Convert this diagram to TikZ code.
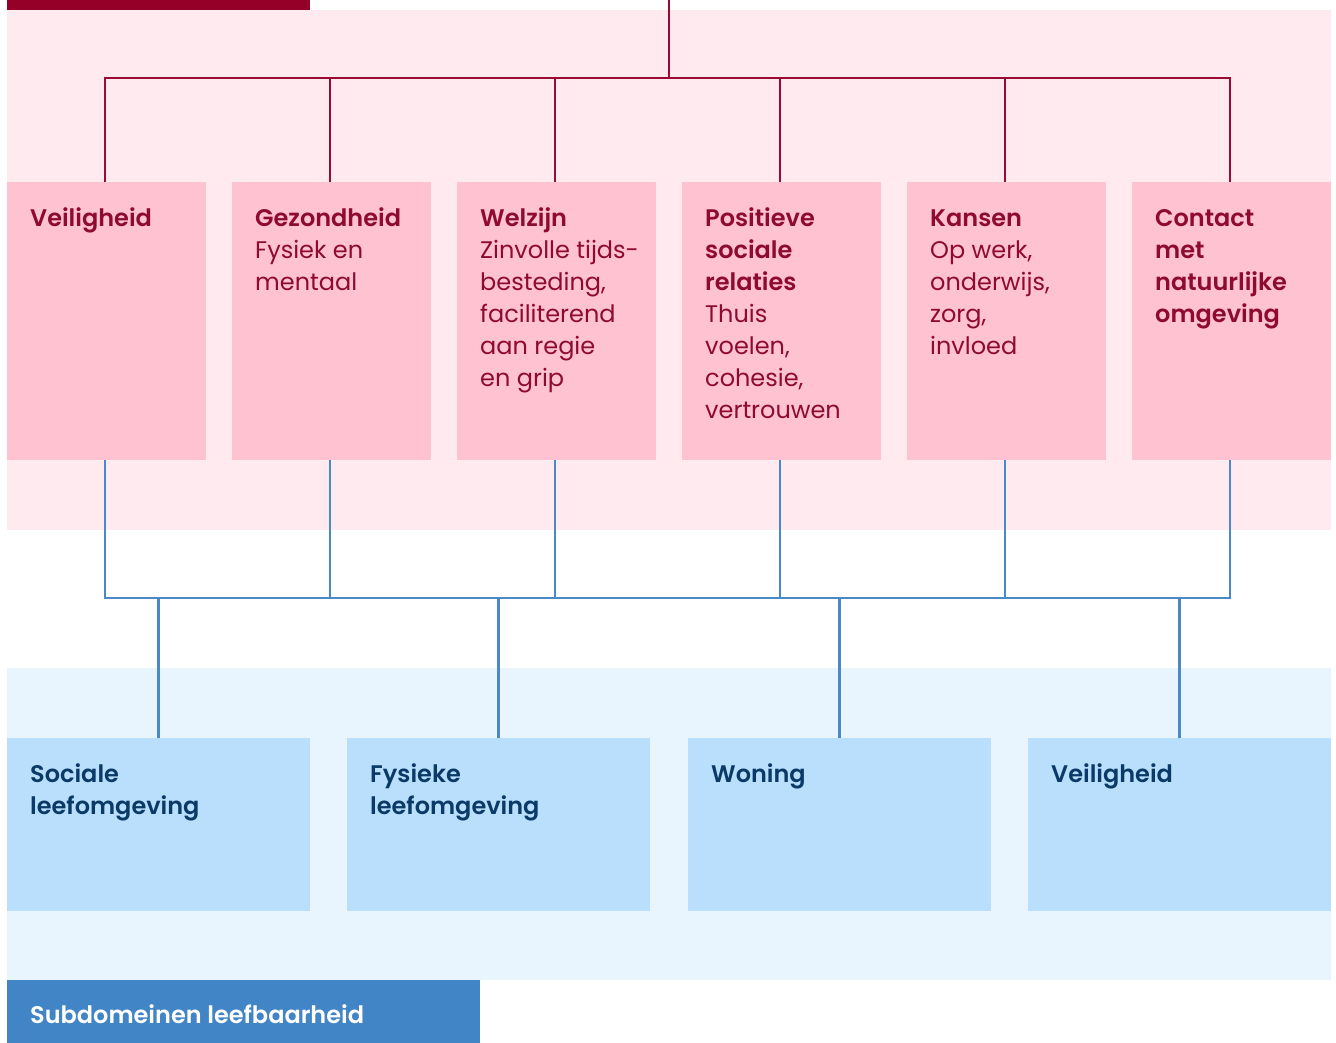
\documentclass[tikz,border=0pt]{standalone}
\usepackage{fontspec}
\setmainfont{Poppins}[BoldFont={Poppins SemiBold}]
\definecolor{darkred}{HTML}{950028}
\definecolor{pinkbg}{HTML}{FFEBEF}
\definecolor{pinkbox}{HTML}{FFC2D0}
\definecolor{redtext}{HTML}{8E0A30}
\definecolor{redline}{HTML}{9B0A35}
\definecolor{bluebg}{HTML}{E8F4FE}
\definecolor{bluebox}{HTML}{B9DFFD}
\definecolor{bluetext}{HTML}{0B3A68}
\definecolor{blueline}{HTML}{4A88C7}
\definecolor{bluebar}{HTML}{4285C6}
\begin{document}
\begin{tikzpicture}[x=1pt,y=-1pt,
  pbox/.style={fill=pinkbox,draw=none,minimum width=199pt,minimum height=278pt,inner sep=0pt,outer sep=0pt,anchor=north west},
  bbox/.style={fill=bluebox,draw=none,minimum width=303pt,minimum height=173pt,inner sep=0pt,outer sep=0pt,anchor=north west},
  ptext/.style={anchor=north west,align=left,inner sep=0pt,text=redtext,font=\fontsize{24}{32}\selectfont},
  btext/.style={anchor=north west,align=left,inner sep=0pt,text=bluetext,font=\fontsize{24}{32}\selectfont\bfseries},
  rline/.style={draw=redline,line width=2.5pt},
  bline/.style={draw=blueline,line width=2.5pt}]
\useasboundingbox (0,0) rectangle (1336,1043);
% backgrounds
\fill[pinkbg] (7,10) rectangle (1331,530);
\fill[bluebg] (7,668) rectangle (1331,980);
\fill[darkred] (7,0) rectangle (310,10);
\node[fill=bluebar,anchor=north west,minimum width=473pt,minimum height=63pt,inner sep=0pt] (bar) at (7,980) {};
\node[anchor=base west,inner sep=0pt,text=white,font=\fontsize{24}{32}\selectfont\bfseries] (bartext) at (30,1023) {Subdomeinen leefbaarheid};
% pink boxes
\node[pbox] (p1) at (7,182) {};
\node[pbox] (p2) at (232,182) {};
\node[pbox] (p3) at (457,182) {};
\node[pbox] (p4) at (682,182) {};
\node[pbox] (p5) at (907,182) {};
\node[pbox] (p6) at (1132,182) {};
\node[ptext] (t1) at (30,203.6) {\strut\textbf{Veiligheid}};
\node[ptext] (t2) at (255,203.6) {\strut\textbf{Gezondheid}\\Fysiek en\\mentaal};
\node[ptext] (t3) at (480,203.6) {\strut\textbf{Welzijn}\\Zinvolle tijds-\\besteding,\\faciliterend\\aan regie\\en grip};
\node[ptext] (t4) at (705,203.6) {\strut\textbf{Positieve}\\\textbf{sociale}\\\textbf{relaties}\\Thuis\\voelen,\\cohesie,\\vertrouwen};
\node[ptext] (t5) at (930,203.6) {\strut\textbf{Kansen}\\Op werk,\\onderwijs,\\zorg,\\invloed};
\node[ptext] (t6) at (1155,203.6) {\strut\textbf{Contact}\\\textbf{met}\\\textbf{natuurlijke}\\\textbf{omgeving}};
% blue boxes
\node[bbox] (b1) at (7,738) {};
\node[bbox] (b2) at (347,738) {};
\node[bbox] (b3) at (688,738) {};
\node[bbox] (b4) at (1028,738) {};
\node[btext] (u1) at (30,759.6) {\strut Sociale\\leefomgeving};
\node[btext] (u2) at (370,759.6) {\strut Fysieke\\leefomgeving};
\node[btext] (u3) at (711,759.6) {\strut Woning};
\node[btext] (u4) at (1051,759.6) {\strut Veiligheid};
% connectors
\coordinate (top) at (669,0);
\coordinate (rbus) at (669,78);
\coordinate (bbus) at (669,598);
\draw[rline] (top) -- (rbus);
\foreach \i in {1,...,6} {
  \draw[rline] ([xshift=-1.5pt]p\i.north) |- (rbus);
  \draw[bline] ([xshift=-1.5pt]p\i.south) |- (bbus);
}
\foreach \j in {1,...,4} {
  \draw[bline] (b\j.north) |- (bbus);
}
\end{tikzpicture}
\end{document}
